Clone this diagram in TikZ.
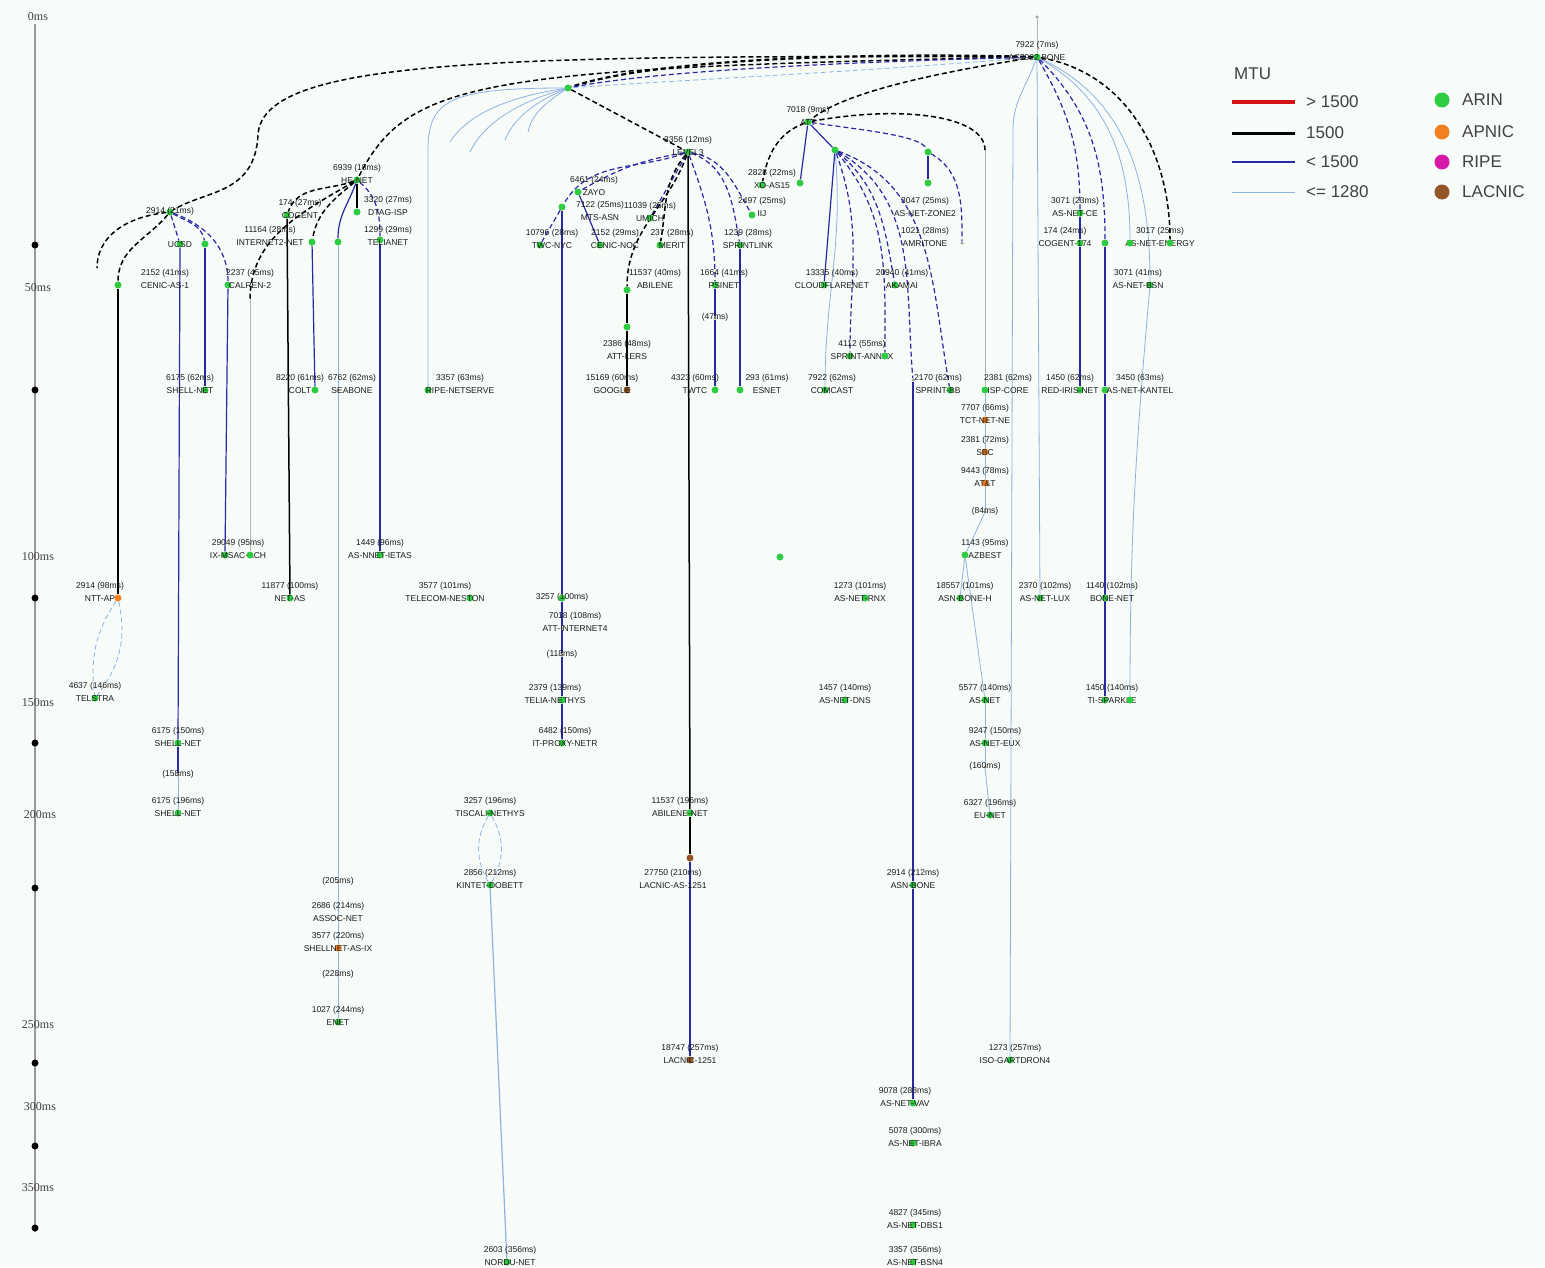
\documentclass[tikz,border=0pt]{standalone}
\usepackage{fontspec}
\setmainfont{Liberation Sans}
\newfontfamily\axisfont{Liberation Serif}
\usetikzlibrary{positioning,calc}
\definecolor{paper}{RGB}{248,252,249}
\definecolor{arin}{RGB}{46,204,64}
\definecolor{apnic}{RGB}{240,128,32}
\definecolor{ripe}{RGB}{215,25,170}
\definecolor{lacnic}{RGB}{150,85,40}
\definecolor{mtured}{RGB}{210,20,20}
\definecolor{mtublue}{RGB}{40,40,165}
\definecolor{mtulight}{RGB}{140,178,225}
\pgfdeclarelayer{paperlayer}
\pgfdeclarelayer{links}
\pgfsetlayers{paperlayer,links,main}
\tikzset{
  hop/.style={circle, inner sep=0pt, minimum size=7pt},
  arin/.style={hop, fill=arin},
  apnic/.style={hop, fill=apnic},
  ripe/.style={hop, fill=ripe},
  lacnic/.style={hop, fill=lacnic},
  nohop/.style={hop, fill=black!35, minimum size=3.5pt},
  lbl/.style={font=\fontsize{8.5}{13}\selectfont, align=center, inner sep=0pt,
    anchor=south, yshift=-3.5pt, text=black!90},
  mtuhi/.style={draw=mtured, line width=1.6pt},
  mtueq/.style={draw=black, line width=1.5pt},
  mtulo/.style={draw=mtublue, line width=1.2pt},
  mtumin/.style={draw=mtulight, line width=0.8pt},
  mtunone/.style={draw=black!30, line width=1pt},
  curvy/.style={dash pattern=on 5pt off 3pt},
  tick/.style={circle, fill=black, inner sep=0pt, minimum size=7pt},
  axlbl/.style={font=\axisfont\fontsize{12}{14}\selectfont, text=black!75},
  legtxt/.style={font=\fontsize{17}{20}\selectfont, text=black!75, anchor=west, inner sep=0pt},
  legdot/.style={circle, inner sep=0pt, minimum size=15pt}
}
\begin{document}
\begin{tikzpicture}[x=1pt,y=1pt]
    \useasboundingbox (0,0) rectangle (1545,-1267);
    \begin{pgfonlayer}{paperlayer}
      \fill[paper] (0,0) rectangle (1545,-1267);
    \end{pgfonlayer}

    % Time axis
    \coordinate (axtop) at (35,-24);
    \coordinate (axbot) at (35,-1232);
    \draw[draw=black!40, line width=1.2pt] (axtop) -- (axbot);
    \node[axlbl] (ms0) at (38,-17) {0ms};
    \node[axlbl] (ms50) at (38,-288) {50ms};
    \node[axlbl] (ms100) at (38,-557) {100ms};
    \node[axlbl] (ms150) at (38,-703) {150ms};
    \node[axlbl] (ms200) at (40,-815) {200ms};
    \node[axlbl] (ms250) at (38,-1025) {250ms};
    \node[axlbl] (ms300) at (40,-1107) {300ms};
    \node[axlbl] (ms350) at (38,-1188) {350ms};
    \node[tick] (tk1) at (35,-245) {};
    \node[tick] (tk2) at (35,-390) {};
    \node[tick] (tk3) at (35,-598) {};
    \node[tick] (tk4) at (35,-743) {};
    \node[tick] (tk5) at (35,-888) {};
    \node[tick] (tk6) at (35,-1063) {};
    \node[tick] (tk7) at (35,-1146) {};
    \node[tick] (tk8) at (35,-1228) {};

    % Legend
    \node[legtxt] (mtu) at (1234,-74) {MTU};
    \coordinate (lg1a) at (1232,-102); \coordinate (lg1b) at (1295,-102);
    \coordinate (lg2a) at (1232,-133); \coordinate (lg2b) at (1295,-133);
    \coordinate (lg3a) at (1232,-162); \coordinate (lg3b) at (1295,-162);
    \coordinate (lg4a) at (1232,-192); \coordinate (lg4b) at (1295,-192);
    \draw[draw=mtured, line width=3.5pt] (lg1a) -- (lg1b);
    \draw[draw=black, line width=3pt] (lg2a) -- (lg2b);
    \draw[draw=mtublue, line width=2pt] (lg3a) -- (lg3b);
    \draw[draw=mtulight, line width=1pt] (lg4a) -- (lg4b);
    \node[legtxt] (lgt1) at (1306,-102) {> 1500};
    \node[legtxt] (lgt2) at (1306,-133) {1500};
    \node[legtxt] (lgt3) at (1306,-162) {< 1500};
    \node[legtxt] (lgt4) at (1306,-192) {<= 1280};
    \node[legdot, fill=arin] (lgd1) at (1442,-100) {};
    \node[legdot, fill=apnic] (lgd2) at (1442,-132) {};
    \node[legdot, fill=ripe] (lgd3) at (1442,-162) {};
    \node[legdot, fill=lacnic] (lgd4) at (1442,-192) {};
    \node[legtxt] (lgn1) at (1462,-100) {ARIN};
    \node[legtxt] (lgn2) at (1462,-132) {APNIC};
    \node[legtxt] (lgn3) at (1462,-162) {RIPE};
    \node[legtxt] (lgn4) at (1462,-192) {LACNIC};

    % Root and first hubs
    \node[nohop] (r0) at (1037,-17) {};
    \node[arin] (r) at (1037,-57) {}; \node[lbl] (rl) at (r) {7922 (7ms)\\AS7922 BONE};
    \node[arin] (hA) at (568,-88) {};
    \node[arin] (hB) at (808,-122) {}; \node[lbl] (hBl) at (hB) {7018 (9ms)\\ATT};
    \node[arin] (hC) at (688,-152) {}; \node[lbl] (hCl) at (hC) {3356 (12ms)\\LEVEL3};
    \node[arin] (hD) at (357,-180) {}; \node[lbl] (hDl) at (hD) {6939 (18ms)\\HE-NET};
    \node[arin] (hE) at (170,-212) {}; \node[lbl] (hEl) at (hE) {2914 (21ms)};

    % Left branch
    \node[arin] (e1) at (118,-285) {}; \node[lbl] (e1l) at (165,-285) {2152 (41ms)\\CENIC-AS-1};
    \node[arin] (e2) at (180,-244) {}; \node[lbl] (e2l) at (e2) {UCSD};
    \node[arin] (e3) at (205,-244) {};
    \node[arin] (e4) at (228,-285) {}; \node[lbl] (e4l) at (250,-285) {2237 (45ms)\\CALREN-2};
    \node[apnic] (e5) at (118,-598) {}; \node[lbl] (e5l) at (100,-598) {2914 (98ms)\\NTT-AP};
    \node[arin] (e6) at (95,-698) {}; \node[lbl] (e6l) at (e6) {4637 (146ms)\\TELSTRA};
    \node[arin] (e7) at (205,-390) {}; \node[lbl] (e7l) at (190,-390) {6175 (62ms)\\SHELL-NET};
    \node[arin] (e8) at (178,-743) {}; \node[lbl] (e8l) at (e8) {6175 (150ms)\\SHELL-NET};
    \node[nohop] (e9) at (178,-775) {}; \node[lbl] (e9l) at (e9) {(158ms)};
    \node[arin] (e10) at (178,-813) {}; \node[lbl] (e10l) at (e10) {6175 (196ms)\\SHELL-NET};
    \node[arin] (e11) at (225,-555) {}; \node[lbl] (e11l) at (238,-555) {29049 (95ms)\\IX-MSAC-ACH};
    \node[arin] (e12) at (250,-555) {};
    \coordinate (eA) at (97,-268);
    \coordinate (dC) at (250,-300);

    % Second branch
    \node[arin] (d1) at (287,-215) {}; \node[lbl] (d1l) at (300,-215) {174 (27ms)\\COGENT};
    \node[arin] (d2) at (312,-242) {}; \node[lbl] (d2l) at (270,-242) {11164 (28ms)\\INTERNET2-NET};
    \node[arin] (d3) at (338,-242) {};
    \node[arin] (d4) at (357,-212) {}; \node[lbl] (d4l) at (388,-212) {3320 (27ms)\\DTAG-ISP};
    \node[arin] (d5) at (380,-240) {}; \node[lbl] (d5l) at (388,-242) {1299 (29ms)\\TELIANET};
    \node[arin] (d6) at (290,-598) {}; \node[lbl] (d6l) at (d6) {11877 (100ms)\\NET-AS};
    \node[arin] (d7) at (315,-390) {}; \node[lbl] (d7l) at (300,-390) {8220 (61ms)\\COLT};
    \node[nohop] (d8) at (338,-390) {}; \node[lbl] (d8l) at (352,-390) {6762 (62ms)\\SEABONE};
    \node[nohop] (d9) at (338,-882) {}; \node[lbl] (d9l) at (d9) {(205ms)};
    \node[nohop] (d10) at (338,-918) {}; \node[lbl] (d10l) at (d10) {2686 (214ms)\\ASSOC-NET};
    \node[apnic] (d11) at (338,-948) {}; \node[lbl] (d11l) at (d11) {3577 (220ms)\\SHELLNET-AS-IX};
    \node[nohop] (d12) at (338,-975) {}; \node[lbl] (d12l) at (d12) {(228ms)};
    \node[arin] (d13) at (338,-1022) {}; \node[lbl] (d13l) at (d13) {1027 (244ms)\\ENET};
    \node[arin] (d14) at (380,-555) {}; \node[lbl] (d14l) at (d14) {1449 (96ms)\\AS-NNET-IETAS};
    \node[arin] (d15) at (428,-390) {}; \node[lbl] (d15l) at (460,-390) {3357 (63ms)\\RIPE-NETSERVE};
    \node[arin] (d16) at (470,-598) {}; \node[lbl] (d16l) at (445,-598) {3577 (101ms)\\TELECOM-NESTON};
    \coordinate (d15k) at (428,-150);

    % Centre branch
    \node[arin] (c1) at (578,-192) {}; \node[lbl] (c1l) at (594,-192) {6461 (24ms)\\ZAYO};
    \node[arin] (c2) at (562,-207) {}; \node[lbl] (c2l) at (600,-217) {7122 (25ms)\\MTS-ASN};
    \node[arin] (c3) at (540,-245) {}; \node[lbl] (c3l) at (552,-245) {10796 (28ms)\\TWC-NYC};
    \node[arin] (c4) at (600,-245) {}; \node[lbl] (c4l) at (615,-245) {2152 (29ms)\\CENIC-NOC};
    \node[arin] (c5) at (650,-218) {}; \node[lbl] (c5l) at (c5) {11039 (25ms)\\UMICH};
    \node[arin] (c6) at (660,-245) {}; \node[lbl] (c6l) at (672,-245) {237 (28ms)\\MERIT};
    \node[arin] (c7) at (752,-215) {}; \node[lbl] (c7l) at (762,-213) {2497 (25ms)\\IIJ};
    \node[arin] (c8) at (740,-245) {}; \node[lbl] (c8l) at (748,-245) {1239 (28ms)\\SPRINTLINK};
    \node[arin] (c9) at (762,-185) {}; \node[lbl] (c9l) at (772,-185) {2828 (22ms)\\XO-AS15};
    \node[arin] (c10) at (800,-183) {};
    \node[arin] (c13) at (627,-290) {}; \node[lbl] (c13l) at (655,-285) {11537 (40ms)\\ABILENE};
    \node[arin] (c11) at (627,-327) {}; \node[lbl] (c11l) at (627,-356) {2386 (48ms)\\ATT-LERS};
    \node[lacnic] (c12) at (627,-390) {}; \node[lbl] (c12l) at (612,-390) {15169 (60ms)\\GOOGLE};
    \node[arin] (c14) at (715,-285) {}; \node[lbl] (c14l) at (724,-285) {1664 (41ms)\\PSINET};
    \node[nohop] (c15) at (715,-318) {}; \node[lbl] (c15l) at (c15) {(47ms)};
    \node[arin] (c16) at (715,-390) {}; \node[lbl] (c16l) at (695,-390) {4323 (60ms)\\TWTC};
    \node[arin] (c17) at (740,-390) {}; \node[lbl] (c17l) at (767,-390) {293 (61ms)\\ESNET};
    \node[arin] (c18) at (825,-390) {}; \node[lbl] (c18l) at (832,-390) {7922 (62ms)\\COMCAST};
    \node[arin] (c19) at (690,-813) {}; \node[lbl] (c19l) at (680,-813) {11537 (196ms)\\ABILENE-NET};
    \node[lacnic] (c20) at (690,-858) {}; \node[lbl] (c20l) at (673,-885) {27750 (210ms)\\LACNIC-AS-1251};
    \node[lacnic] (c21) at (690,-1060) {}; \node[lbl] (c21l) at (c21) {18747 (257ms)\\LACNIC-1251};
    \node[arin] (m1) at (562,-598) {}; \node[lbl] (m1l) at (m1) {3257 (100ms)};
    \node[nohop] (m2) at (562,-628) {}; \node[lbl] (m2l) at (575,-628) {7018 (108ms)\\ATT-INTERNET4};
    \node[nohop] (m3) at (562,-655) {}; \node[lbl] (m3l) at (m3) {(118ms)};
    \node[arin] (m4) at (562,-700) {}; \node[lbl] (m4l) at (555,-700) {2379 (139ms)\\TELIA-NETHYS};
    \node[arin] (m5) at (562,-743) {}; \node[lbl] (m5l) at (565,-743) {6482 (150ms)\\IT-PROXY-NETR};
    \node[arin] (n1) at (490,-813) {}; \node[lbl] (n1l) at (n1) {3257 (196ms)\\TISCALI-NETHYS};
    \node[arin] (n2) at (490,-885) {}; \node[lbl] (n2l) at (n2) {2856 (212ms)\\KINTET-DOBETT};
    \node[arin] (n3) at (507,-1262) {}; \node[lbl] (n3l) at (510,-1262) {2603 (356ms)\\NORDU-NET};
    \coordinate (fa1) at (450,-142);
    \coordinate (fa2) at (470,-152);
    \coordinate (fa3) at (505,-140);
    \coordinate (fa4) at (528,-132);

    % Right-centre branch
    \node[arin] (b1) at (835,-150) {};
    \node[arin] (b2) at (928,-152) {};
    \node[arin] (b3) at (928,-183) {}; \node[lbl] (b3l) at (925,-213) {3047 (25ms)\\AS-NET-ZONE2};
    \node[nohop] (b4) at (962,-243) {}; \node[lbl] (b4l) at (925,-243) {1021 (28ms)\\AMRITONE};
    \node[arin] (b5) at (824,-285) {}; \node[lbl] (b5l) at (832,-285) {13335 (40ms)\\CLOUDFLARENET};
    \node[arin] (b6) at (895,-285) {}; \node[lbl] (b6l) at (902,-285) {20940 (41ms)\\AKAMAI};
    \node[arin] (b7) at (850,-356) {}; \node[lbl] (b7l) at (862,-356) {4112 (55ms)\\SPRINT-ANNEX};
    \node[arin] (b8) at (885,-356) {};
    \node[arin] (b9) at (950,-390) {}; \node[lbl] (b9l) at (938,-390) {2170 (62ms)\\SPRINT-BB};
    \node[nohop] (b10) at (913,-380) {};
    \node[arin] (b11) at (913,-885) {}; \node[lbl] (b11l) at (b11) {2914 (212ms)\\ASN-BONE};
    \node[arin] (b12) at (913,-1103) {}; \node[lbl] (b12l) at (905,-1103) {9078 (288ms)\\AS-NET-VAV};
    \node[arin] (b13) at (913,-1143) {}; \node[lbl] (b13l) at (915,-1143) {5078 (300ms)\\AS-NET-IBRA};
    \node[arin] (b14) at (913,-1225) {}; \node[lbl] (b14l) at (915,-1225) {4827 (345ms)\\AS-NET-DBS1};
    \node[arin] (b15) at (913,-1262) {}; \node[lbl] (b15l) at (915,-1262) {3357 (356ms)\\AS-NET-BSN4};
    \node[arin] (b16) at (865,-598) {}; \node[lbl] (b16l) at (860,-598) {1273 (101ms)\\AS-NET-RNX};
    \node[arin] (b17) at (845,-700) {}; \node[lbl] (b17l) at (b17) {1457 (140ms)\\AS-NET-DNS};
    \node[arin] (b18) at (780,-557) {};

    % Chain under the grey line
    \coordinate (g985) at (985,-150);
    \node[arin] (q1) at (985,-390) {}; \node[lbl] (q1l) at (1008,-390) {2381 (62ms)\\ISP-CORE};
    \node[apnic] (q2) at (985,-420) {}; \node[lbl] (q2l) at (q2) {7707 (66ms)\\TCT-NET-NE};
    \node[apnic] (q3) at (985,-452) {}; \node[lbl] (q3l) at (q3) {2381 (72ms)\\SBC};
    \node[apnic] (q4) at (985,-483) {}; \node[lbl] (q4l) at (q4) {9443 (78ms)\\AT\&T};
    \node[nohop] (q5) at (985,-512) {}; \node[lbl] (q5l) at (q5) {(84ms)};
    \node[arin] (q6) at (965,-555) {}; \node[lbl] (q6l) at (985,-555) {1143 (95ms)\\AZBEST};
    \node[arin] (q7) at (960,-598) {}; \node[lbl] (q7l) at (965,-598) {18557 (101ms)\\ASN-BONE-H};
    \node[arin] (q8) at (1040,-598) {}; \node[lbl] (q8l) at (1045,-598) {2370 (102ms)\\AS-NET-LUX};
    \node[arin] (q9) at (1105,-598) {}; \node[lbl] (q9l) at (1112,-598) {1140 (102ms)\\BONE-NET};
    \node[arin] (q10) at (985,-700) {}; \node[lbl] (q10l) at (q10) {5577 (140ms)\\AS-NET};
    \node[arin] (q11) at (985,-743) {}; \node[lbl] (q11l) at (995,-743) {9247 (150ms)\\AS-NET-EUX};
    \node[nohop] (q12) at (985,-767) {}; \node[lbl] (q12l) at (q12) {(160ms)};
    \node[arin] (q13) at (990,-815) {}; \node[lbl] (q13l) at (q13) {6327 (196ms)\\EU-NET};
    \node[arin] (q14) at (1010,-1060) {}; \node[lbl] (q14l) at (1015,-1060) {1273 (257ms)\\ISO-GARTDRON4};
    \coordinate (lq1) at (1013,-130);

    % Right branch
    \node[arin] (k1) at (1080,-213) {}; \node[lbl] (k1l) at (1075,-213) {3071 (23ms)\\AS-NET-CE};
    \node[arin] (k2) at (1080,-243) {}; \node[lbl] (k2l) at (1065,-243) {174 (24ms)\\COGENT-174};
    \node[arin] (k3) at (1105,-243) {}; \node[lbl] (k3l) at (1160,-243) {3017 (25ms)\\AS-NET-ENERGY};
    \node[arin] (k4) at (1150,-285) {}; \node[lbl] (k4l) at (1138,-285) {3071 (41ms)\\AS-NET-BSN};
    \node[arin] (k5) at (1080,-390) {}; \node[lbl] (k5l) at (1070,-390) {1450 (62ms)\\RED-IRIS-NET};
    \node[arin] (k6) at (1105,-390) {}; \node[lbl] (k6l) at (1140,-390) {3450 (63ms)\\AS-NET-KANTEL};
    \node[arin] (k7) at (1105,-700) {}; \node[lbl] (k7l) at (1112,-700) {1450 (140ms)\\TI-SPARKLE};
    \node[arin] (k8) at (1130,-700) {};
    \node[arin] (k9) at (1170,-243) {};
    \node[arin] (k10) at (1130,-243) {};

    % Links
    \begin{pgfonlayer}{links}
      \draw[mtunone] (r0) -- (r);
      \coordinate (hEk) at (258,-135);
      \draw[mtueq, curvy] (r) .. controls (500,-55) and (262,-58) .. (hEk) .. controls (255,-195) and (205,-190) .. (hE);
      \draw[mtueq, curvy] (r) .. controls (480,-68) and (408,-80) .. (hD);
      \draw[mtueq, curvy, line width=2.2pt] (r) .. controls (850,-52) and (650,-60) .. (hA);
      \draw[mtulo, curvy] (r) .. controls (850,-62) and (660,-70) .. (hA);
      \draw[mtumin, curvy] (r) .. controls (860,-72) and (680,-80) .. (hA);
      \draw[mtueq, curvy] (r) .. controls (920,-75) and (840,-95) .. (hB);
      \draw[mtueq, curvy] (hB) .. controls (900,-105) and (985,-115) .. (g985);
      \draw[mtunone] (g985) -- (q1);
      \draw[mtueq, curvy] (hA) -- (hC);
      \draw[mtumin] (hA) .. controls (520,-95) and (470,-110) .. (fa1);
      \draw[mtumin] (hA) .. controls (525,-100) and (485,-120) .. (fa2);
      \draw[mtumin] (hA) .. controls (540,-100) and (515,-115) .. (fa3);
      \draw[mtumin] (hA) .. controls (550,-100) and (532,-112) .. (fa4);
      \draw[mtumin] (hA) .. controls (450,-88) and (428,-100) .. (d15k) -- (d15);
      % left
      \draw[mtueq, curvy] (hE) .. controls (120,-218) and (97,-240) .. (eA);
      \draw[mtueq, curvy] (hE) to[out=230, in=90] (e1);
      \draw[mtulo, curvy] (hE) -- (e2);
      \draw[mtulo, curvy] (hE) to[out=-30, in=100] (e3);
      \draw[mtulo, curvy] (hE) to[out=-20, in=90] (e4);
      \draw[mtueq] (e1) -- (e5);
      \draw[mtumin, curvy] (e5) to[bend right=20] (e6);
      \draw[mtumin, curvy] (e5) to[bend left=25] (e6);
      \draw[mtulo] (e3) -- (e7);
      \draw[mtulo] (e2) -- (e8);
      \draw[mtulo] (e8) -- (e9);
      \draw[mtumin] (e9) -- (e10);
      \draw[mtulo] (e4) -- (e11);
      \draw[mtueq, curvy] (hD) to[out=210, in=90] (dC);
      \draw[mtunone] (dC) -- (e12);
      % second
      \draw[mtueq, curvy] (hD) to[out=200, in=70] (d1);
      \draw[mtueq, curvy] (hD) to[out=220, in=80] (d2);
      \draw[mtulo] (hD) to[out=250, in=90] (d3);
      \draw[mtueq] (hD) -- (d4);
      \draw[mtulo, curvy] (hD) to[out=-40, in=90] (d5);
      \draw[mtueq] (d1) -- (d6);
      \draw[mtulo] (d2) -- (d7);
      \draw[mtumin] (d3) -- (d8);
      \draw[mtumin] (d8) -- (d9);
      \draw[mtumin] (d9) -- (d10);
      \draw[mtumin] (d10) -- (d11);
      \draw[mtumin] (d11) -- (d12);
      \draw[mtumin] (d12) -- (d13);
      \draw[mtulo] (d5) -- (d14);
      % centre
      \draw[mtulo, curvy] (hC) to[out=190, in=30] (c1);
      \draw[mtulo, curvy] (hC) to[out=200, in=60] (c2);
      \draw[mtulo, curvy] (hC) -- (c5);
      \draw[mtueq, curvy] (hC) to[out=230, in=80] (c6);
      \draw[mtueq, curvy] (hC) to[out=250, in=90] (c13);
      \draw[mtulo, curvy] (hC) to[out=-70, in=90] (c14);
      \draw[mtulo, curvy] (hC) to[out=-20, in=100] (c8);
      \draw[mtulo, curvy] (hC) to[out=-10, in=120] (c7);
      \draw[mtueq] (hC) -- (c19);
      \draw[mtulo] (c1) -- (c4);
      \draw[mtulo, curvy] (c2) -- (c3);
      \draw[mtulo, line width=2pt] (c2) -- (m1);
      \draw[mtulo, line width=2pt] (m1) -- (m2);
      \draw[mtulo, line width=2pt] (m2) -- (m3);
      \draw[mtulo, line width=2pt] (m3) -- (m4);
      \draw[mtulo, line width=2pt] (m4) -- (m5);
      \draw[mtueq] (c13) -- (c11);
      \draw[mtueq] (c11) -- (c12);
      \draw[mtulo] (c14) -- (c15);
      \draw[mtulo] (c15) -- (c16);
      \draw[mtulo] (c8) -- (c17);
      \draw[mtueq] (c19) -- (c20);
      \draw[mtulo] (c20) -- (c21);
      \draw[mtumin, curvy] (n1) to[bend right=30] (n2);
      \draw[mtumin, curvy] (n1) to[bend left=30] (n2);
      \draw[mtumin, line width=1.2pt] (n2) -- (n3);
      % right centre
      \draw[mtulo] (hB) -- (b1);
      \draw[mtulo, curvy] (hB) .. controls (860,-130) and (920,-135) .. (b2);
      \draw[mtueq, curvy] (hB) to[out=200, in=80] (c9);
      \draw[mtulo] (hB) -- (c10);
      \draw[mtulo] (b2) -- (b3);
      \draw[mtulo, curvy] (b2) to[out=-30, in=90] (b4);
      \draw[mtulo] (b1) -- (b5);
      \draw[mtumin] (b1) to[out=-85, in=90] (c18);
      \draw[mtulo, curvy] (b1) to[out=-40, in=100] (b6);
      \draw[mtulo, curvy] (b1) to[out=-70, in=90] (b7);
      \draw[mtulo, curvy] (b1) to[out=-50, in=90] (b8);
      \draw[mtulo, curvy] (b1) to[out=-30, in=95] (b10);
      \draw[mtulo, curvy] (b1) to[out=-20, in=100] (b9);
      \draw[mtulo, line width=1.8pt] (b10) -- (b11);
      \draw[mtulo, line width=1.8pt] (b11) -- (b12);
      % grey chain
      \draw[mtumin] (q1) -- (q2);
      \draw[mtumin] (q2) -- (q3);
      \draw[mtumin] (q3) -- (q4);
      \draw[mtumin] (q4) -- (q5);
      \draw[mtumin] (q5) -- (q6);
      \draw[mtumin] (q6) -- (q7);
      \draw[mtumin] (q6) -- (q10);
      \draw[mtumin] (q10) -- (q11);
      \draw[mtumin] (q11) -- (q12);
      \draw[mtumin] (q12) -- (q13);
      \draw[mtumin] (r) to[out=250, in=90] (lq1) -- (q14);
      \draw[mtumin] (r) -- (q8);
      % right
      \draw[mtulo, curvy] (r) to[out=-60, in=90] (k1);
      \draw[mtulo] (k1) -- (k2);
      \draw[mtulo] (k2) -- (k5);
      \draw[mtulo, curvy] (r) to[out=-45, in=90] (k3);
      \draw[mtulo] (k3) -- (k6);
      \draw[mtulo] (k6) -- (k7);
      \draw[mtumin] (r) to[out=-25, in=90] (k4);
      \draw[mtumin] (k4) to[out=-95, in=90] (k8);
      \draw[mtumin] (r) to[out=-30, in=90] (k10);
      \draw[mtueq, curvy] (r) to[out=-10, in=90] (k9);
    \end{pgfonlayer}
\end{tikzpicture}
\end{document}
